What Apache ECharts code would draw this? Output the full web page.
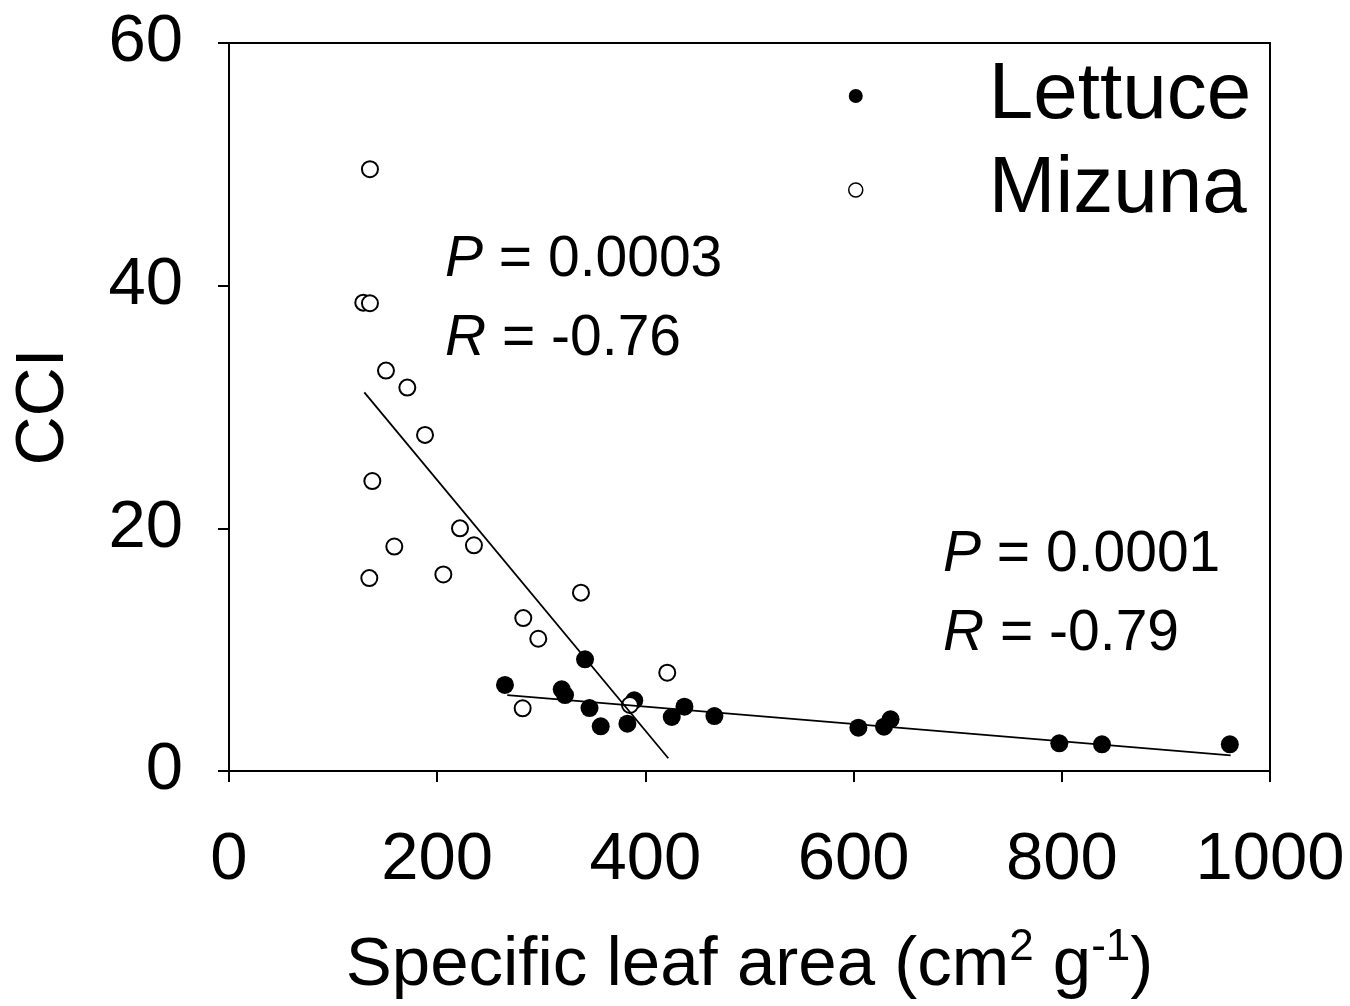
<!DOCTYPE html>
<html>
<head>
<meta charset="utf-8">
<script src="https://cdn.jsdelivr.net/npm/echarts@6/dist/echarts.min.js"></script>
<style>html,body{margin:0;padding:0;background:#fff}#c{width:1350px;height:1006px}</style>
</head>
<body>
<div id="c"></div>
<script>
// Specific leaf area (x) and CCI (y)
const lettuceSLA = [265.1, 342.0, 319.6, 322.8, 346.3, 357.1, 382.7, 389.3, 425.3, 437.5, 466.3, 604.6, 629.2, 635.5, 797.6, 838.6, 961.4];
const lettuceCCI = [7.09, 9.2, 6.73, 6.26, 5.19, 3.68, 3.9, 5.83, 4.45, 5.3, 4.53, 3.57, 3.65, 4.26, 2.28, 2.2, 2.2];
const mizunaSLA = [135.4, 129.0, 135.4, 150.8, 171.3, 188.3, 137.7, 158.8, 134.8, 221.9, 235.3, 205.9, 338.1, 282.7, 297.1, 421.0, 282.1, 385.2];
const mizunaCCI = [49.6, 38.6, 38.55, 33.0, 31.6, 27.7, 23.9, 18.5, 15.9, 20.0, 18.6, 16.2, 14.7, 12.6, 10.9, 8.1, 5.17, 5.44];
// Fitted regression line end points
const mizunaFitX = [130.0, 422.0];
const mizunaFitY = [31.2, 1.05];
const lettuceFitX = [267.3, 962.2];
const lettuceFitY = [6.26, 1.29];
const xTicks = [0, 200, 400, 600, 800, 1000];
const yTicks = [0, 20, 40, 60];
const seriesNames = ['Lettuce', 'Mizuna'];

const pairs = (xs, ys) => xs.map((x, i) => [x, ys[i]]);
const FONT = 'Liberation Sans, Arial, sans-serif';

const chart = echarts.init(document.getElementById('c'), null, {renderer: 'canvas'});
chart.setOption({
  animation: false,
  backgroundColor: '#fff',
  grid: {left: 229, right: 80, top: 43, bottom: 235, containLabel: false, outerBoundsMode: 'none',
    show: true, borderColor: '#000', borderWidth: 2, backgroundColor: 'transparent'},
  xAxis: {
    type: 'value', min: xTicks[0], max: xTicks[xTicks.length - 1], interval: 200,
    splitLine: {show: false},
    axisLine: {show: true, onZero: false, lineStyle: {color: '#000', width: 2}},
    axisTick: {show: true, length: 11, lineStyle: {color: '#000', width: 2}},
    axisLabel: {color: '#000', fontSize: 67, fontFamily: FONT, margin: 56, formatter: v => String(v)},
    name: 'Specific leaf area (cm{sup|2} g{sup|-1})',
    nameLocation: 'middle', nameGap: 155,
    nameTextStyle: {
      color: '#000', fontSize: 69, fontFamily: FONT, lineHeight: 80,
      rich: {sup: {fontSize: 44, fontFamily: FONT, color: '#000', lineHeight: 42, verticalAlign: 'top'}}
    }
  },
  yAxis: {
    type: 'value', min: yTicks[0], max: yTicks[yTicks.length - 1], interval: 20,
    splitLine: {show: false},
    axisLine: {show: true, onZero: false, lineStyle: {color: '#000', width: 2}},
    axisTick: {show: true, length: 11, lineStyle: {color: '#000', width: 2}},
    axisLabel: {color: '#000', fontSize: 67, fontFamily: FONT, margin: 46, formatter: v => String(v)},
    name: 'CCI', nameLocation: 'middle', nameGap: 151,
    nameTextStyle: {color: '#000', fontSize: 68, fontFamily: FONT}
  },
  legend: {
    orient: 'vertical', left: 843, top: 44, itemGap: 0,
    itemWidth: 14, itemHeight: 14,
    data: [
      {name: seriesNames[0], icon: 'circle', itemStyle: {color: '#000', borderColor: '#000', borderWidth: 0}},
      {name: seriesNames[1], icon: 'circle', itemStyle: {color: '#fff', borderColor: '#000', borderWidth: 1.5}}
    ],
    textStyle: {color: '#000', fontSize: 80, fontFamily: FONT, lineHeight: 94, padding: [0, 0, 0, 121]}
  },
  series: [
    {
      name: seriesNames[0], type: 'scatter', symbol: 'circle', symbolSize: 18, z: 2,
      itemStyle: {color: '#000', opacity: 1},
      data: pairs(lettuceSLA, lettuceCCI)
    },
    {
      name: seriesNames[1], type: 'scatter', symbol: 'circle', symbolSize: 16, z: 3,
      itemStyle: {color: '#fff', borderColor: '#000', borderWidth: 2, opacity: 1},
      data: pairs(mizunaSLA, mizunaCCI)
    },
    {
      type: 'line', symbol: 'none', z: 4, silent: true,
      lineStyle: {color: '#000', width: 1.8},
      data: pairs(mizunaFitX, mizunaFitY)
    },
    {
      type: 'line', symbol: 'none', z: 4, silent: true,
      lineStyle: {color: '#000', width: 1.8},
      data: pairs(lettuceFitX, lettuceFitY)
    }
  ],
  graphic: [
    {type: 'text', left: 445, top: 232, z: 10, style: {text: '{i|P} = 0.0003', fill: '#000', font: '57px ' + FONT, rich: {i: {fontStyle: 'italic', fontSize: 57, fontFamily: FONT}}}},
    {type: 'text', left: 445, top: 311, z: 10, style: {text: '{i|R} = -0.76', fill: '#000', font: '57px ' + FONT, rich: {i: {fontStyle: 'italic', fontSize: 57, fontFamily: FONT}}}},
    {type: 'text', left: 943, top: 527, z: 10, style: {text: '{i|P} = 0.0001', fill: '#000', font: '57px ' + FONT, rich: {i: {fontStyle: 'italic', fontSize: 57, fontFamily: FONT}}}},
    {type: 'text', left: 943, top: 606, z: 10, style: {text: '{i|R} = -0.79', fill: '#000', font: '57px ' + FONT, rich: {i: {fontStyle: 'italic', fontSize: 57, fontFamily: FONT}}}}
  ]
});
</script>
</body>
</html>
